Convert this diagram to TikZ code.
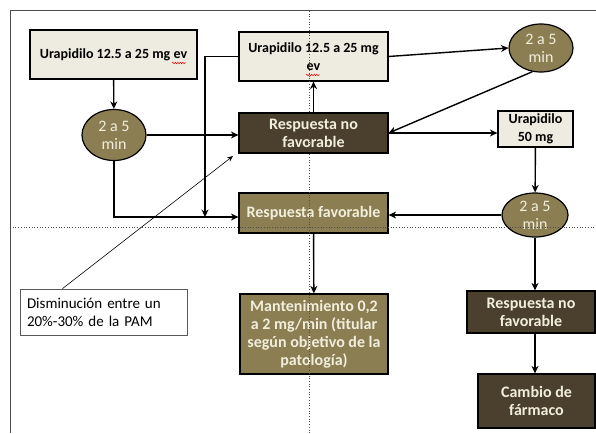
\documentclass[tikz,border=0pt]{standalone}
\usepackage{fontspec}
\setmainfont{Carlito}
\usetikzlibrary{arrows.meta,shapes.geometric,decorations.pathmorphing}
\definecolor{claro}{HTML}{EEECE1}
\definecolor{oliva}{HTML}{8A7E52}
\definecolor{oscuro}{HTML}{4A402D}
\definecolor{letra}{HTML}{F2EEDC}
\begin{document}
\begin{tikzpicture}[x=1pt, y=-1pt,
  every node/.style={font=\fontsize{16}{18}\selectfont},
  caja/.style={draw, line width=1.2pt, align=center, font=\fontsize{16}{18}\selectfont\bfseries, inner sep=2pt},
  chica/.style={font=\fontsize{14}{18}\selectfont\bfseries},
  cajaclara/.style={caja, fill=claro},
  cajaoliva/.style={caja, fill=oliva, text=letra},
  cajaoscura/.style={caja, fill=oscuro, text=letra},
  tiempo/.style={ellipse, draw, line width=1.2pt, fill=oliva, text=letra, align=center, inner sep=0pt},
  flecha/.style={-{Stealth[length=7.5pt,width=7pt]}, line width=1.4pt},
  onda/.style={red, line width=0.5pt, decorate, decoration={snake, amplitude=0.7pt, segment length=2.5pt}}]
  \useasboundingbox (0,0) rectangle (596,433);
  \fill[white] (0,0) rectangle (596,433);
  \draw[gray!60!black, line width=1pt] (596,11) -- (10,11) -- (10,433);

  \node[cajaclara, chica, minimum width=167pt, minimum height=49pt] (ura1) at (113.5,54.5) {Urapidilo 12.5 a 25 mg ev};
  \node[tiempo, minimum width=64pt, minimum height=51pt] (min1) at (114,135) {2 a 5\\min};
  \node[cajaclara, chica, minimum width=149pt, minimum height=49pt] (ura2) at (313.5,56.5) {Urapidilo 12.5 a 25 mg\\ev};
  \node[tiempo, minimum width=64pt, minimum height=48pt] (min2) at (541,48) {2 a 5\\min};
  \node[cajaoscura, minimum width=149pt, minimum height=40pt] (nofav1) at (313.5,133) {Respuesta no\\favorable};
  \node[cajaclara, chica, minimum width=75pt, minimum height=36pt] (ura3) at (535.5,129) {Urapidilo\\50 mg};
  \node[tiempo, minimum width=66pt, minimum height=44pt] (min3) at (535,215) {2 a 5\\min};
  \node[cajaoliva, minimum width=149pt, minimum height=40pt] (fav) at (313.5,213) {Respuesta favorable};
  \node[cajaoliva, minimum width=148pt, minimum height=80pt] (mant) at (314,334) {Mantenimiento 0,2\\a 2 mg/min (titular\\según objetivo de la\\patología)};
  \node[cajaoscura, minimum width=128pt, minimum height=42pt] (nofav2) at (531,312) {Respuesta no\\favorable};
  \node[cajaoscura, minimum width=117pt, minimum height=54pt] (cambio) at (536.5,401) {Cambio de\\fármaco};
  \node[draw=gray!70!black, line width=0.8pt, align=left, font=\fontsize{15}{18}\selectfont, minimum width=167pt, minimum height=46pt, inner xsep=7pt, text width=153pt] (nota) at (103.5,312) {Disminución entre un\\20\%-30\% de la PAM};

  \coordinate (union) at (205,217);
  \coordinate (punta) at (233,156);
  \draw[flecha] (ura1) -- (min1);
  \draw[flecha] (min1.east) -- (min1.east -| nofav1.west);
  \draw[flecha] (min1.south) |- ([yshift=-4pt]fav.west);
  \draw[flecha] (ura2.west) -| (union);
  \draw[flecha] (nofav1) -- (ura2);
  \draw[flecha] (ura2.east) -- (min2.west);
  \draw[flecha] (min2.250) -- (nofav1.east);
  \draw[flecha] (nofav1.east) -- (nofav1.east -| ura3.west);
  \draw[flecha] (ura3) -- (min3);
  \draw[flecha] (min3.west) -- (min3.west -| fav.east);
  \draw[flecha] (fav) -- (mant);
  \draw[flecha] (min3.south) -- (min3.south |- nofav2.north);
  \draw[flecha] (nofav2.south -| min3.south) -- (cambio.north -| min3.south);
  \draw[-{Stealth[length=6pt,width=5pt]}, line width=0.6pt] ([xshift=-41pt]nota.north) -- (punta);

  \draw[onda] (172,63) -- (186,63);
  \draw[onda] (306,75) -- (320,75);
  \draw[gray!60!black, dotted, line width=0.7pt] (309,11) -- (309,433);
  \draw[gray!60!black, dotted, line width=0.7pt] (10,227) -- (596,227);
\end{tikzpicture}
\end{document}
